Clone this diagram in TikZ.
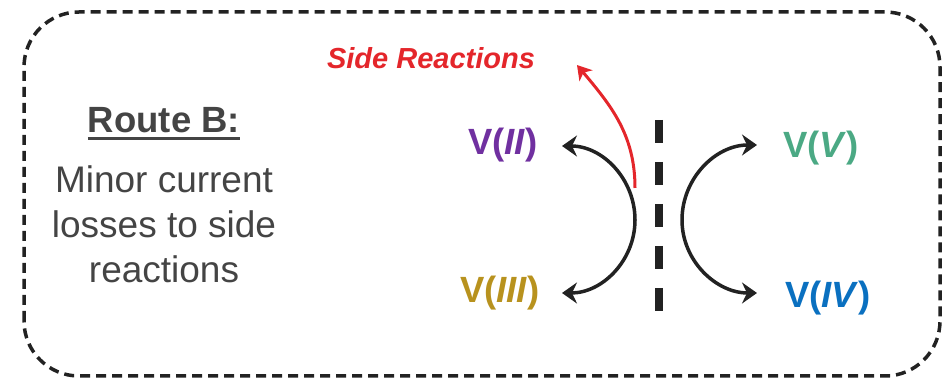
\documentclass[tikz,border=0pt]{standalone}
\usepackage{fontspec}
\setmainfont{Liberation Sans}
\usetikzlibrary{arrows.meta}

\definecolor{textgray}{HTML}{444444}
\definecolor{inkdark}{HTML}{222222}
\definecolor{vpurple}{HTML}{7030A0}
\definecolor{vgold}{HTML}{B8921E}
\definecolor{vgreen}{HTML}{4BA984}
\definecolor{vblue}{HTML}{0A70C0}
\definecolor{sidered}{HTML}{E4262B}

\tikzset{
  frame/.style={draw=inkdark, line width=3.5pt, dash pattern=on 10pt off 6pt, rounded corners=55pt},
  bodytext/.style={text=textgray, inner sep=0pt, anchor=base, font=\fontsize{37}{44}\selectfont},
  heading/.style={bodytext, font=\fontsize{36.5}{44}\selectfont\bfseries},
  species/.style={inner sep=0pt, anchor=base, font=\fontsize{36.5}{44}\selectfont\bfseries},
  redox/.style={draw=inkdark, line width=3.5pt, {Stealth[length=15pt,width=21pt,inset=5pt]}-{Stealth[length=15pt,width=21pt,inset=5pt]}},
  sidearrow/.style={draw=sidered, line width=3pt, -{Stealth[length=14pt,width=17pt,inset=4pt]}},
  membrane/.style={draw=inkdark, line width=8pt, dash pattern=on 23pt off 19pt}
}

\begin{document}
\begin{tikzpicture}[x=1pt,y=1pt]
  \useasboundingbox (0,0) rectangle (943,379);

  % outer dashed frame
  \draw[frame] (24,3) rectangle (940,367);

  % left-hand description
  \node[heading] (rb) at (164,246) {Route B:};
  \draw[textgray, line width=3pt] ([yshift=-6pt]rb.base west) -- ([yshift=-6pt]rb.base east);
  \node[bodytext] (l1) at (164,186) {Minor current};
  \node[bodytext] (l2) at (164,141) {losses to side};
  \node[bodytext] (l3) at (164,96) {reactions};

  % vanadium species
  \node[species, text=vpurple] (v2) at (503,224) {V(\textit{II})};
  \node[species, text=vgold]   (v3) at (500,76)  {V(\textit{III})};
  \node[species, text=vgreen]  (v5) at (821,221) {V(\textit{V})};
  \node[species, text=vblue]   (v4) at (828,71)  {V(\textit{IV})};

  % side reaction label
  \node[inner sep=0pt, anchor=base, text=sidered, font=\fontsize{29}{34}\selectfont\bfseries\itshape] (side) at (431,310) {Side Reactions};

  % arc end points
  \coordinate (tII)  at (562,233);
  \coordinate (mL)   at (635,159);
  \coordinate (tIII) at (562,86);
  \coordinate (tV)   at (757,234);
  \coordinate (mR)   at (682,159);
  \coordinate (tIV)  at (757,86);

  % negative and positive half-cell redox arcs
  \draw[redox] (tII) to[out=0,in=90] (mL) to[out=-90,in=0] (tIII);
  \draw[redox] (tV) to[out=180,in=90] (mR) to[out=-90,in=180] (tIV);

  % membrane
  \coordinate (sepTop) at (659,259);
  \coordinate (sepBot) at (659,66);
  \draw[membrane] (sepTop) -- (sepBot);

  % current loss to side reactions
  \coordinate (sideStart) at (635,191);
  \coordinate (sideTip) at (577,314);
  \draw[sidearrow] (sideStart) to[out=90,in=-50] (sideTip);
\end{tikzpicture}
\end{document}
